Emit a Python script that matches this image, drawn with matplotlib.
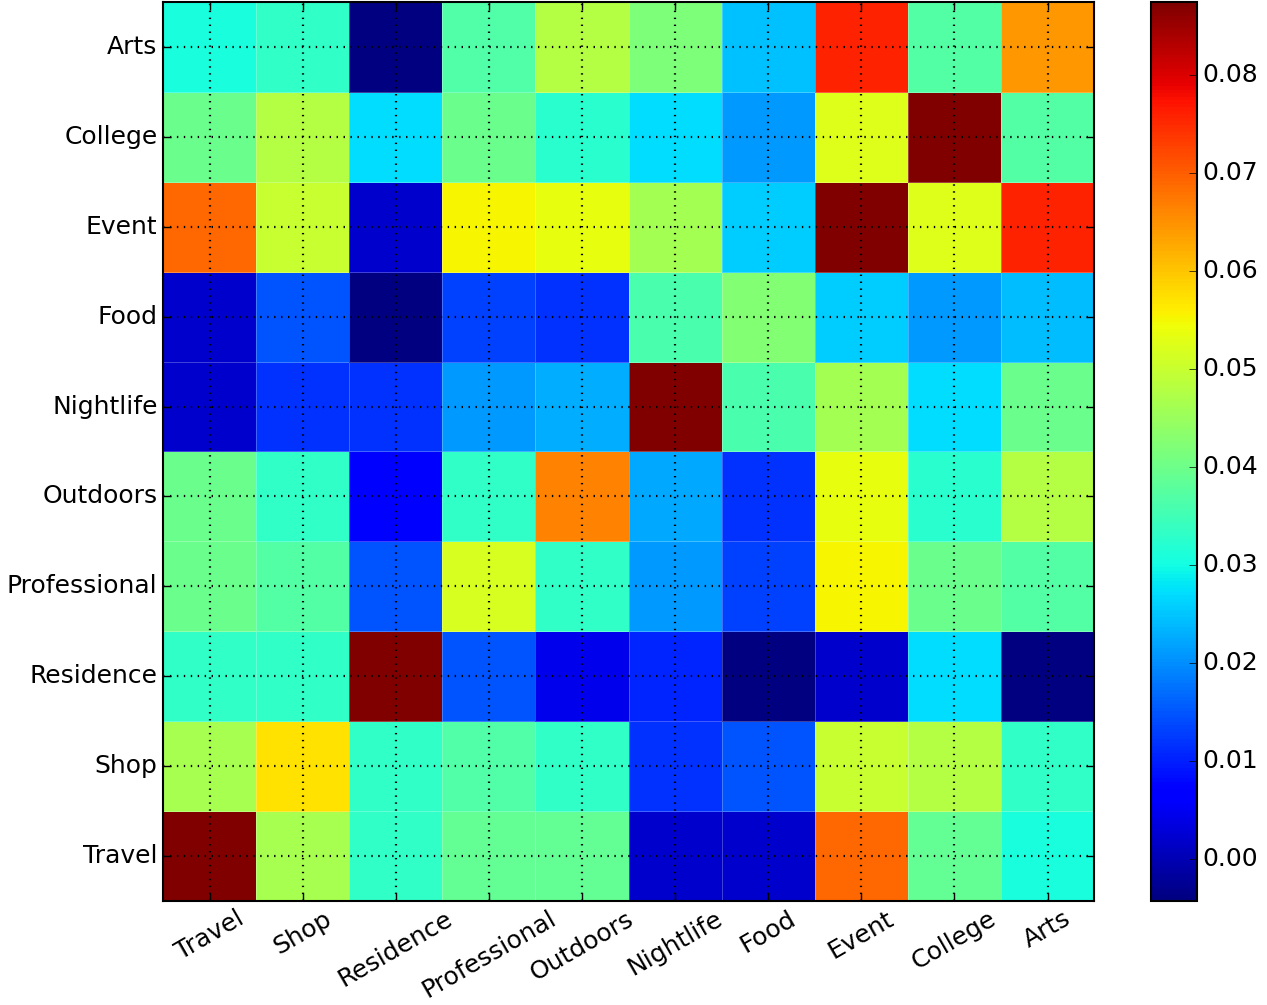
import numpy as np
import matplotlib
matplotlib.use("Agg")
import matplotlib.pyplot as plt

# ===== DATA =====
categories = ["Travel", "Shop", "Residence", "Professional", "Outdoors",
              "Nightlife", "Food", "Event", "College", "Arts"]

# one row per category (bottom to top), columns in the same order
travel       = [0.0874, 0.0464, 0.0333, 0.0388, 0.0388, 0.0018, 0.0018, 0.0690, 0.0388, 0.0306]
shop         = [0.0464, 0.0571, 0.0333, 0.0367, 0.0333, 0.0117, 0.0148, 0.0498, 0.0477, 0.0333]
residence    = [0.0333, 0.0333, 0.0874, 0.0148, 0.0044, 0.0104, -0.0043, 0.0018, 0.0271, -0.0040]
professional = [0.0397, 0.0370, 0.0148, 0.0516, 0.0333, 0.0209, 0.0130, 0.0553, 0.0397, 0.0370]
outdoors     = [0.0397, 0.0333, 0.0063, 0.0333, 0.0663, 0.0223, 0.0115, 0.0535, 0.0324, 0.0477]
nightlife    = [0.0018, 0.0117, 0.0115, 0.0209, 0.0228, 0.0874, 0.0360, 0.0460, 0.0271, 0.0397]
food         = [0.0018, 0.0148, -0.0043, 0.0130, 0.0117, 0.0360, 0.0425, 0.0255, 0.0209, 0.0240]
event        = [0.0690, 0.0498, 0.0018, 0.0553, 0.0535, 0.0460, 0.0255, 0.0874, 0.0526, 0.0759]
college      = [0.0397, 0.0477, 0.0271, 0.0397, 0.0324, 0.0271, 0.0209, 0.0526, 0.0874, 0.0370]
arts         = [0.0306, 0.0333, -0.0043, 0.0367, 0.0477, 0.0416, 0.0244, 0.0759, 0.0370, 0.0643]

matrix = np.array([travel, shop, residence, professional, outdoors,
                   nightlife, food, event, college, arts])

cbar_ticks = [0.00, 0.01, 0.02, 0.03, 0.04, 0.05, 0.06, 0.07, 0.08]

# ===== PLOT =====
plt.style.use("classic")
plt.rcParams["font.family"] = ["DejaVu Sans"]
plt.rcParams["font.size"] = 18

fig = plt.figure(figsize=(12.67, 10.05), dpi=100, facecolor="white")
ax = fig.add_axes([0.1287, 0.1035, 0.7348, 0.8945])
cax = fig.add_axes([1151 / 1267, 0.1035, 46 / 1267, 0.8945])

mesh = ax.pcolormesh(matrix, cmap="jet", edgecolors=(1, 1, 1, 0.25), linewidth=0.5)

n = len(categories)
ax.set_xlim(0, n)
ax.set_ylim(0, n)
ax.set_xticks(np.arange(n) + 0.5)
ax.set_yticks(np.arange(n) + 0.5)
ax.set_xticklabels(categories, rotation=30, fontsize=18)
ax.set_yticklabels(categories, fontsize=18)
ax.tick_params(direction="in", length=6, width=1, top=True, right=True)
ax.grid(True, color="black", linestyle=(0, (1, 4)), linewidth=1.6)
for s in ax.spines.values():
    s.set_linewidth(1.5)

cb = fig.colorbar(mesh, cax=cax, ticks=cbar_ticks, format="%.2f")
cb.ax.tick_params(direction="in", length=6, labelsize=18)
cb.outline.set_linewidth(1.5)

fig.savefig("out.png", dpi=100, facecolor="white")
